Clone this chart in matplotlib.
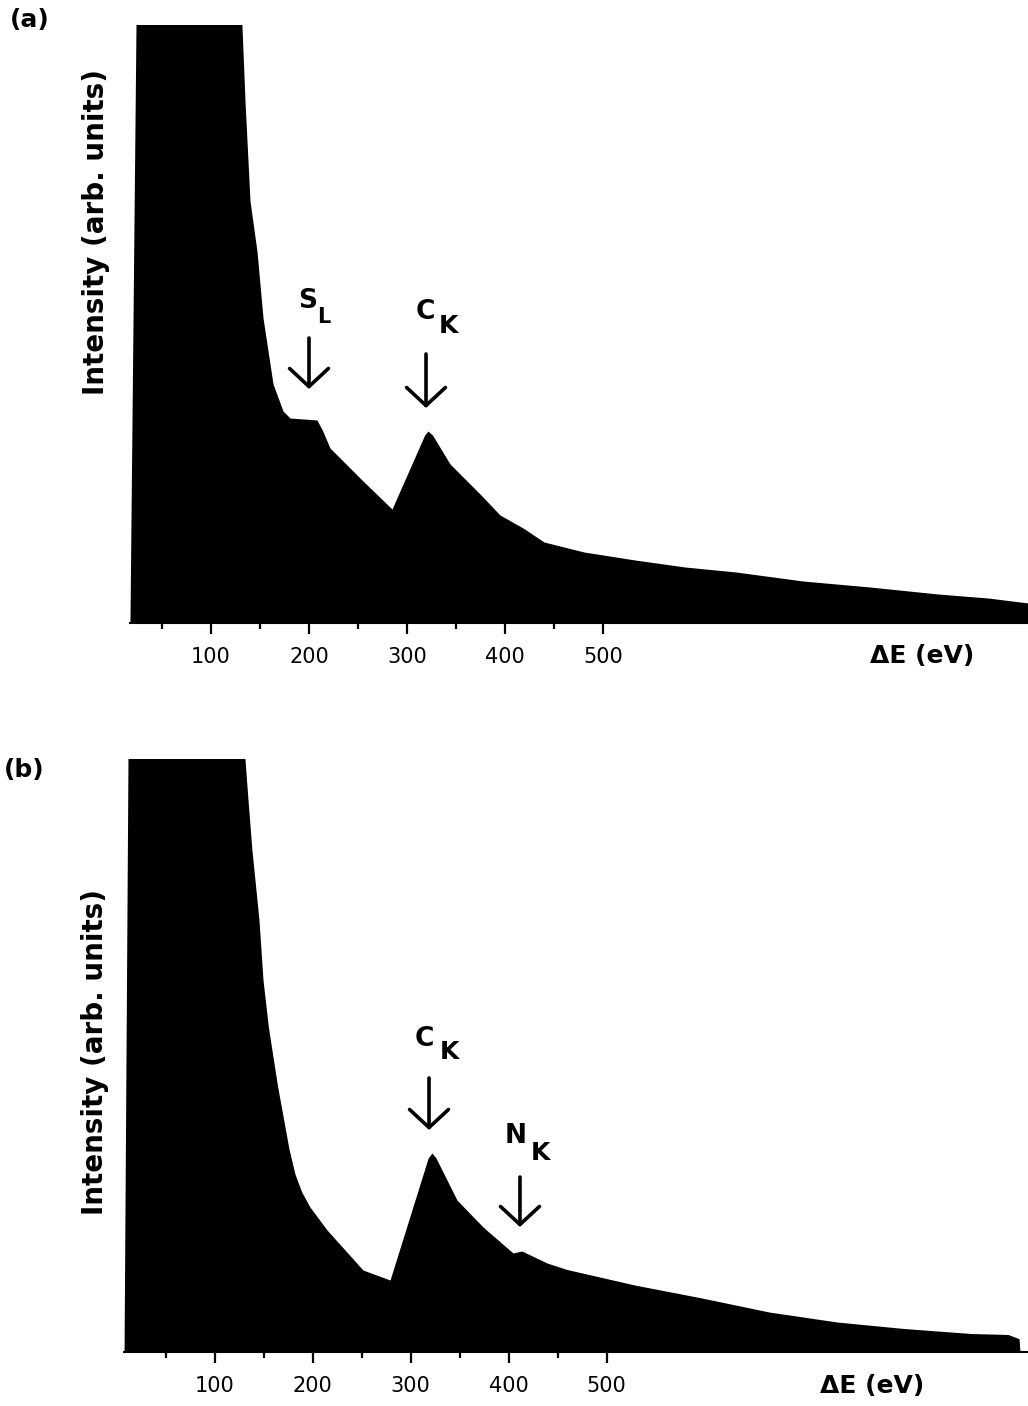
import numpy as np
import matplotlib
matplotlib.use("Agg")
import matplotlib.pyplot as plt

# energy loss (eV) and intensity (arb. units)
E_a = [17.3, 24.0, 129.5, 131.6, 134.7, 139.8, 146.9, 153.1, 163.3, 173.5, 180.6,
       208.2, 214.0, 221.4, 255.1, 284.7, 318.0, 321.4, 326.0, 343.9, 374.5, 394.9,
       418.4, 439.8, 480.6, 532.7, 583.7, 635.7, 704.0, 772.4, 841.8, 892.9, 934.0]
I_a = [0, 650, 650, 597, 522, 422, 372, 305, 239, 212, 205,
       203, 192, 175, 142, 114, 188, 192, 188, 159, 129, 108,
       95, 81, 71, 63, 56, 51, 42, 36, 29, 25, 20]

E_b = [7.7, 12.1, 130.0, 131.1, 134.2, 138.2, 141.3, 145.4, 149.5, 155.0, 159.7,
       164.5, 169.9, 176.0, 182.1, 189.0, 197.4, 214.8, 251.5, 279.1, 318.0, 321.9,
       326.0, 347.4, 374.0, 404.6, 413.7, 439.3, 459.7, 528.7, 597.3, 665.8, 735.2,
       803.4, 871.9, 909.7, 920.9, 922.0]
I_b = [0, 650, 650, 593, 552, 502, 472, 432, 372, 325, 295,
       265, 236, 203, 178, 160, 145, 122, 82, 72, 194, 199,
       194, 152, 125, 99, 101, 89, 82.5, 67, 54, 40, 30,
       23.5, 18.5, 17.5, 13.4, 0]

major_ticks = [100, 200, 300, 400, 500]
minor_ticks = [50, 150, 250, 350, 450]

W, H = 1028, 1406
fig = plt.figure(figsize=(W / 100, H / 100), dpi=100)
plt.rcParams['font.family'] = 'DejaVu Sans'


def panel(rect, E, I, xlim, top, marks):
    ax = fig.add_axes(rect)
    ax.fill_between(E, 0, I, color='black', lw=0)
    ax.set_xlim(*xlim)
    ax.set_ylim(0, top)
    for s in ['top', 'right', 'left']:
        ax.spines[s].set_visible(False)
    ax.spines['bottom'].set_linewidth(1.5)
    ax.set_yticks([])
    ax.set_xticks(major_ticks)
    ax.set_xticks(minor_ticks, minor=True)
    ax.tick_params(axis='x', which='major', length=8, width=1.6, pad=9, labelsize=15)
    ax.tick_params(axis='x', which='minor', length=4, width=1.6)
    ax.set_xticklabels([str(t) for t in major_ticks])
    for (x0, y_tail, y_head, main, sub, mpos, spos, ssize) in marks:
        ax.annotate('', xy=(x0, y_head), xytext=(x0, y_tail),
                    arrowprops=dict(arrowstyle='->,head_length=0.65,head_width=0.7',
                                    lw=2.6, color='black', mutation_scale=20,
                                    shrinkA=0, shrinkB=0))
        ax.text(mpos[0], mpos[1], main, fontsize=19, fontweight='bold',
                ha='center', va='center')
        ax.text(spos[0], spos[1], sub, fontsize=ssize, fontweight='bold',
                ha='center', va='center')
    return ax


# panel (a): baseline at y=623 px, top at y=25 px
x0a, ka = 113.0, 0.98
xlim_a = (17.3, 934)
ra = [(x0a + ka * xlim_a[0]) / W, 1 - 623 / H,
      ka * (xlim_a[1] - xlim_a[0]) / W, (623 - 25) / H]
marks_a = [
    (200.0, 285, 234, 'S', 'L', (198.5, 322), (215.0, 306), 15),
    (319.4, 269, 215, 'C', 'K', (318.4, 311), (341.8, 297), 18),
]
ax_a = panel(ra, E_a, I_a, xlim_a, 598, marks_a)

# panel (b): baseline at y=1352 px, top at y=759 px
x0b, kb = 116.5, 0.98
xlim_b = (7.7, 934)
rb = [(x0b + kb * xlim_b[0]) / W, 1 - 1352 / H,
      kb * (xlim_b[1] - xlim_b[0]) / W, (1352 - 759) / H]
marks_b = [
    (318.9, 274, 222, 'C', 'K', (314.3, 313), (339.3, 300), 18),
    (411.7, 175, 125, 'N', 'K', (407.7, 216), (432.1, 199), 18),
]
ax_b = panel(rb, E_b, I_b, xlim_b, 593, marks_b)

# axis titles and panel letters
fig.text(96 / W, 1 - 232 / H, 'Intensity (arb. units)', rotation=90,
         fontsize=20, fontweight='bold', ha='center', va='center')
fig.text(95 / W, 1 - 1052 / H, 'Intensity (arb. units)', rotation=90,
         fontsize=20, fontweight='bold', ha='center', va='center')
fig.text(922 / W, 1 - 656 / H, '\u0394E (eV)', fontsize=18, fontweight='bold',
         ha='center', va='center')
fig.text(872 / W, 1 - 1386 / H, '\u0394E (eV)', fontsize=18, fontweight='bold',
         ha='center', va='center')
fig.text(30 / W, 1 - 20 / H, '(a)', fontsize=18, fontweight='bold',
         ha='center', va='center')
fig.text(24 / W, 1 - 770 / H, '(b)', fontsize=18, fontweight='bold',
         ha='center', va='center')

fig.savefig('out.png', dpi=100)
